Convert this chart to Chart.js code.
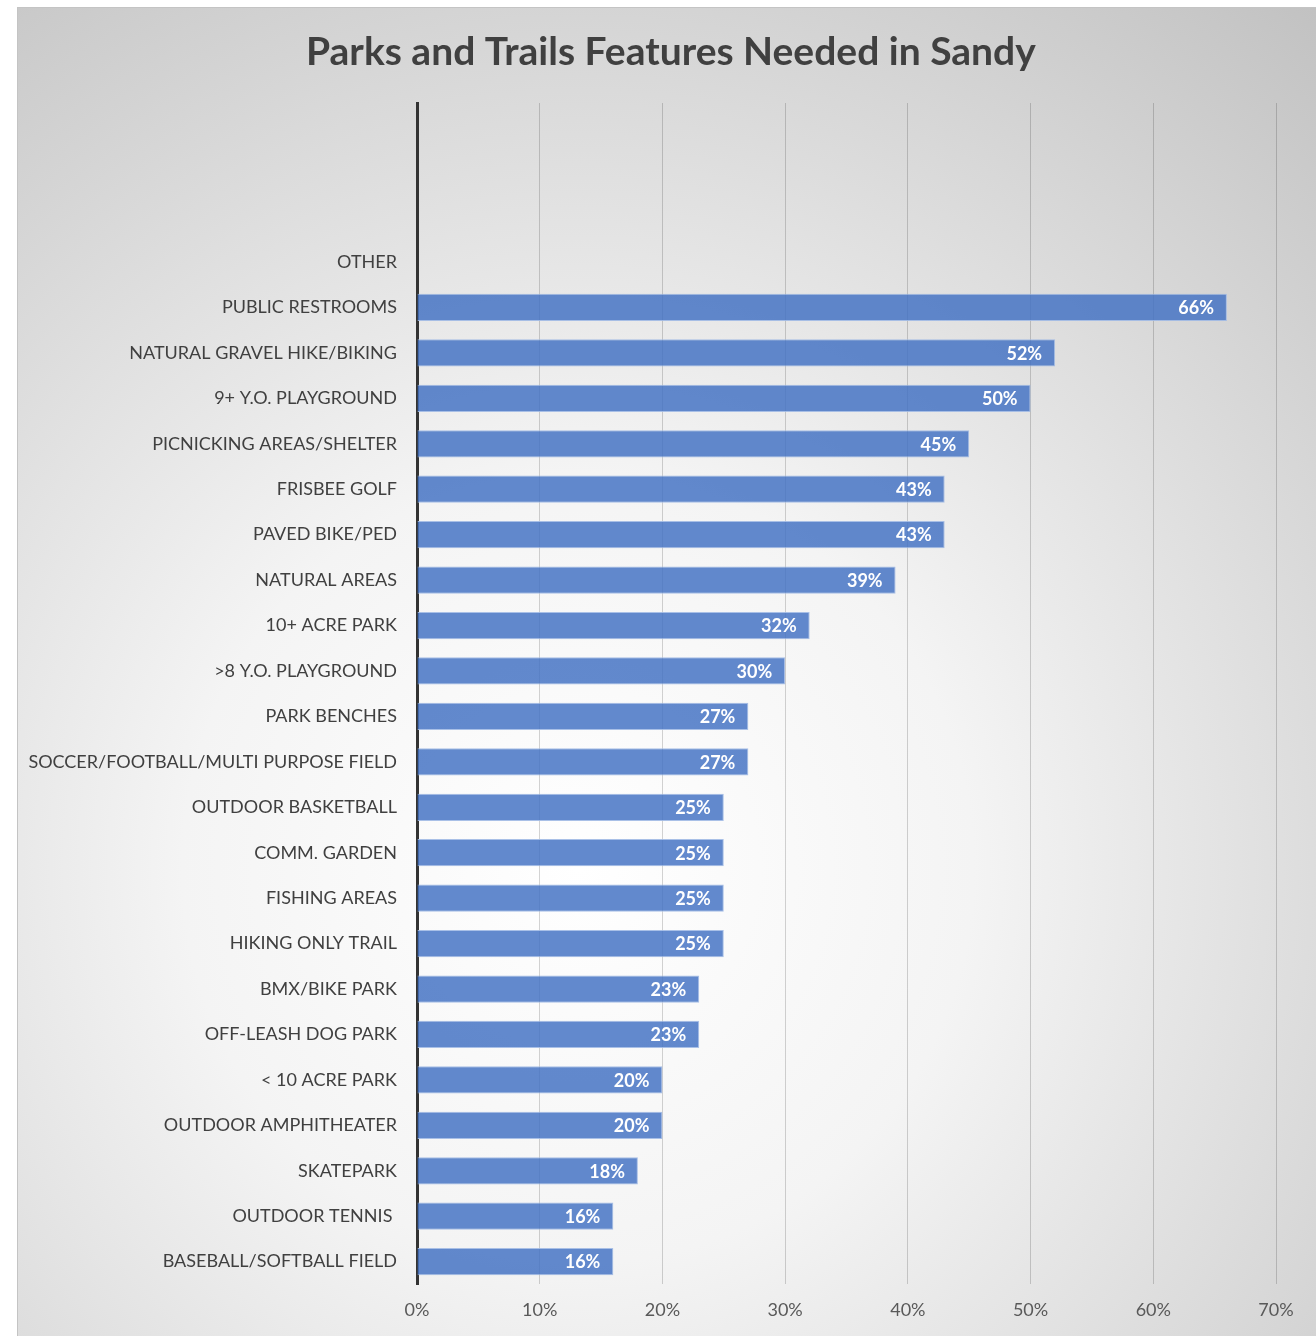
<!DOCTYPE html>
<html>
<head>
<meta charset="utf-8">
<title>Parks and Trails Features Needed in Sandy</title>
<script src="https://cdn.jsdelivr.net/npm/chart.js@4/dist/chart.umd.min.js"></script>
<style>
  html, body { margin: 0; padding: 0; background: #fff; overflow: hidden; }
  #wrap {
    position: absolute;
    left: 17px;
    top: 7px;
    border: 1px solid #c4c4c4;
    width: 1298px;
    height: 1328px;
  }
  canvas { display: block; }
</style>
</head>
<body>
<div id="wrap"><canvas id="grafico" width="1298" height="1328"></canvas></div>
<script>
// ---- dados ----
const titulo = "Parks and Trails Features Needed in Sandy";

const categorias = [
  "", "", "", "OTHER",
  "PUBLIC RESTROOMS",
  "NATURAL GRAVEL HIKE/BIKING",
  "9+ Y.O. PLAYGROUND",
  "PICNICKING AREAS/SHELTER",
  "FRISBEE GOLF",
  "PAVED BIKE/PED",
  "NATURAL AREAS",
  "10+ ACRE PARK",
  ">8 Y.O. PLAYGROUND",
  "PARK BENCHES",
  "SOCCER/FOOTBALL/MULTI PURPOSE FIELD",
  "OUTDOOR BASKETBALL",
  "COMM. GARDEN",
  "FISHING AREAS",
  "HIKING ONLY TRAIL",
  "BMX/BIKE PARK",
  "OFF-LEASH DOG PARK",
  "< 10 ACRE PARK",
  "OUTDOOR AMPHITHEATER",
  "SKATEPARK",
  "OUTDOOR TENNIS ",
  "BASEBALL/SOFTBALL FIELD"
];

const percentuais = [
  null, null, null, null,
  66, 52, 50, 45, 43, 43, 39, 32, 30, 27, 27,
  25, 25, 25, 25, 23, 23, 20, 20, 18, 16, 16
];

const ticksX = [0, 10, 20, 30, 40, 50, 60, 70];

const fonte = "Lato, 'Open Sans', sans-serif";

// fundo com degradê radial
const fundo = {
  id: "fundo",
  beforeDraw(chart) {
    const c = chart.ctx;
    const w = chart.width, h = chart.height;
    const g = c.createRadialGradient(560, 860, 0, 560, 860, 1130);
    g.addColorStop(0, "#ffffff");
    g.addColorStop(0.35, "#f4f4f4");
    g.addColorStop(1, "#c2c2c2");
    c.save();
    c.fillStyle = g;
    c.fillRect(0, 0, w, h);
    c.restore();
  }
};

// título desenhado à mão, um pouco à direita do centro
const cabecalho = {
  id: "cabecalho",
  afterDraw(chart) {
    const c = chart.ctx;
    c.save();
    c.font = "bold 39px " + fonte;
    c.fillStyle = "#404040";
    c.textAlign = "left";
    c.textBaseline = "middle";
    c.fillText(titulo, 288, 44);
    c.restore();
  }
};

// rótulos de valor dentro da ponta da barra
const rotulos = {
  id: "rotulos",
  afterDatasetsDraw(chart) {
    const c = chart.ctx;
    const meta = chart.getDatasetMeta(0);
    c.save();
    c.font = "bold 18px " + fonte;
    c.fillStyle = "#ffffff";
    c.textAlign = "right";
    c.textBaseline = "middle";
    meta.data.forEach((bar, i) => {
      const v = percentuais[i];
      if (v == null) return;
      c.fillText(v + "%", bar.x - 13, bar.y + 1);
    });
    c.restore();
  }
};

new Chart(document.getElementById("grafico"), {
  type: "bar",
  data: {
    labels: categorias,
    datasets: [{
      data: percentuais,
      backgroundColor: "rgba(68, 114, 196, 0.84)",
      borderColor: "rgba(160, 185, 228, 0.9)",
      borderWidth: 1,
      categoryPercentage: 1,
      barPercentage: 0.6
    }]
  },
  options: {
    indexAxis: "y",
    responsive: false,
    animation: false,
    layout: { padding: { left: 0, right: 40, top: 95, bottom: 0 } },
    plugins: {
      legend: { display: false },
      tooltip: { enabled: false },
      title: { display: false }
    },
    scales: {
      x: {
        min: 0,
        max: 70,
        afterBuildTicks(scale) {
          scale.ticks = ticksX.map(v => ({ value: v }));
        },
        ticks: {
          color: "#595959",
          font: { family: fonte, size: 18 },
          padding: 15,
          callback: v => v + "%"
        },
        grid: {
          color: "rgba(0, 0, 0, 0.17)",
          lineWidth: 1,
          drawTicks: false
        },
        border: { display: false }
      },
      y: {
        afterFit(scale) { scale.width = 399; },
        ticks: {
          color: "#404040",
          font: { family: fonte, size: 18 },
          padding: 20,
          autoSkip: false
        },
        grid: { display: false, drawTicks: false },
        border: { display: true, color: "#333333", width: 3 }
      }
    }
  },
  plugins: [fundo, rotulos, cabecalho]
});
</script>
</body>
</html>
